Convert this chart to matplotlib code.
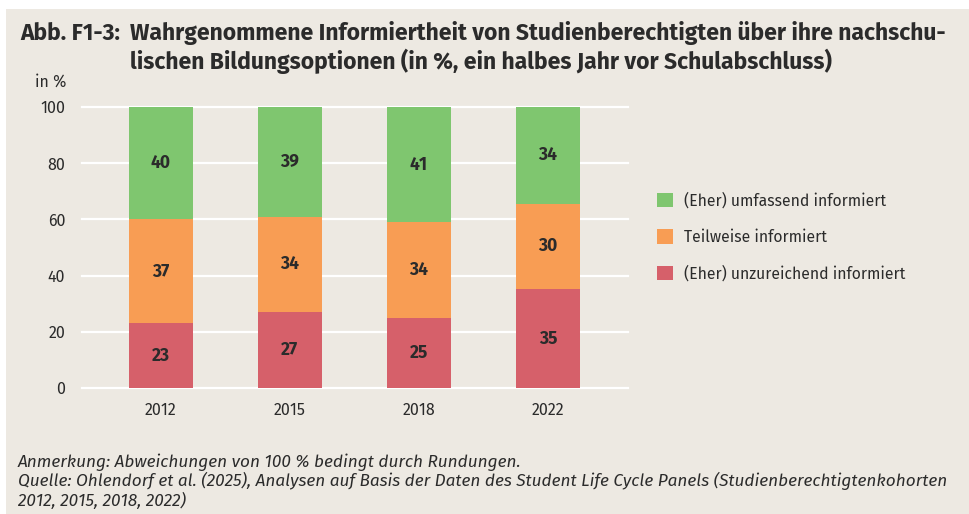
import matplotlib
matplotlib.use("Agg")
import matplotlib.pyplot as plt
from matplotlib.patches import Rectangle
from matplotlib import font_manager as fm

years = ["2012", "2015", "2018", "2022"]
series_names = ["(Eher) unzureichend informiert", "Teilweise informiert", "(Eher) umfassend informiert"]
# printed values
unzureichend = [23, 27, 25, 35]
teilweise = [37, 34, 34, 30]
umfassend = [40, 39, 41, 34]
# segment heights as drawn (unrounded estimates)
h_unzureichend = [23, 27, 25, 35.3]
h_teilweise = [37, 34, 34, 30.3]
h_umfassend = [40, 39, 41, 34.4]
yticks = [0, 20, 40, 60, 80, 100]

colors = ["#d6606a", "#f89d54", "#7fc66f"]
BG = "#ede9e2"
TXT = "#2b2b2b"

names = {f.name for f in fm.fontManager.ttflist}


def pick(*cands):
    for c in cands:
        if c in names:
            return c
    return "DejaVu Sans"


body = pick("Fira Sans", "Source Sans 3", "Lato")

W, H = 970, 514
fig = plt.figure(figsize=(W / 100, H / 100), dpi=100)
fig.patch.set_facecolor("white")
fig.add_artist(Rectangle((6 / W, 0), 1 - 6 / W, 1 - 9 / H, transform=fig.transFigure,
                         facecolor=BG, edgecolor="none", zorder=-10))

ax = fig.add_axes([82 / W, (H - 388) / H, 546 / W, 281 / H])
ax.set_facecolor("none")
for s in ax.spines.values():
    s.set_visible(False)

x = list(range(len(years)))
bw = 0.496
bottoms = [0] * len(years)
heights = [h_unzureichend, h_teilweise, h_umfassend]
labels = [unzureichend, teilweise, umfassend]
handles = []
for i in range(3):
    bars = ax.bar(x, heights[i], bw, bottom=bottoms, color=colors[i], zorder=3, label=series_names[i])
    handles.append(bars)
    for xi, b, h, lab in zip(x, bottoms, heights[i], labels[i]):
        ax.text(xi, b + h / 2, str(lab), ha="center", va="center", fontsize=12.5,
                fontweight="bold", color=TXT, family=body, zorder=4)
    bottoms = [b + h for b, h in zip(bottoms, heights[i])]

ax.set_xlim(-0.612, 3.62)
ax.set_ylim(0, 100)
ax.set_yticks(yticks)
ax.set_yticklabels([str(t) for t in yticks])
for t in yticks:
    ax.axhline(t, color="white", lw=1.6, zorder=1, clip_on=False)
ax.set_xticks(x)
ax.set_xticklabels(years)
ax.tick_params(axis="both", length=0, labelsize=11.5, colors=TXT)
ax.tick_params(axis="y", pad=12)
ax.tick_params(axis="x", pad=10)
for lab in ax.get_xticklabels() + ax.get_yticklabels():
    lab.set_family(body)

fig.text(35 / W, 1 - 82 / H, "in %", fontsize=11.5, color=TXT, family=body, va="center", ha="left")

# title
fig.text(20 / W, 1 - 33 / H, "Abb. F1-3:", fontsize=16.5, fontweight="bold", color=TXT, family=body, va="center")
fig.text(130 / W, 1 - 33 / H, "Wahrgenommene Informiertheit von Studienberechtigten über ihre nachschu-",
         fontsize=16.5, fontweight="bold", color=TXT, family=body, va="center")
fig.text(130 / W, 1 - 61 / H, "lischen Bildungsoptionen (in %, ein halbes Jahr vor Schulabschluss)",
         fontsize=16.5, fontweight="bold", color=TXT, family=body, va="center")

# legend
leg = fig.legend(handles=handles[::-1], labels=series_names[::-1], loc="upper left",
                 bbox_to_anchor=(643 / W, 1 - 178 / H), frameon=False,
                 handlelength=1.02, handleheight=1.02, handletextpad=0.7, labelspacing=1.3,
                 prop={"family": body, "size": 11.3})
for t in leg.get_texts():
    t.set_color(TXT)

# notes
fig.text(18 / W, 1 - 462 / H, "Anmerkung: Abweichungen von 100 % bedingt durch Rundungen.",
         fontsize=12.4, style="italic", color=TXT, family=body, va="center")
fig.text(18 / W, 1 - 481 / H,
         "Quelle: Ohlendorf et al. (2025), Analysen auf Basis der Daten des Student Life Cycle Panels (Studienberechtigtenkohorten",
         fontsize=12.4, style="italic", color=TXT, family=body, va="center")
fig.text(18 / W, 1 - 501 / H, "2012, 2015, 2018, 2022)",
         fontsize=12.4, style="italic", color=TXT, family=body, va="center")

fig.savefig("out.png", dpi=100, facecolor=fig.get_facecolor())
